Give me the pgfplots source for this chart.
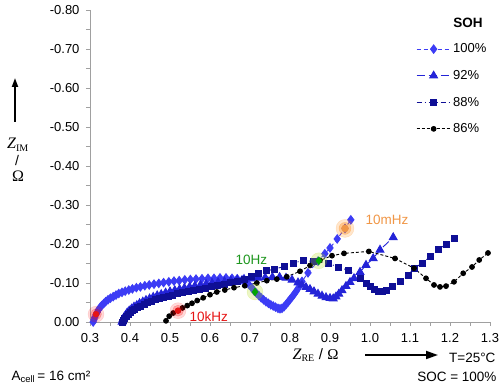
\documentclass[border=0pt]{standalone}
\usepackage{pgfplots}
\pgfplotsset{compat=1.18}
\usepackage{fontspec}
\setmainfont{Liberation Sans}
\newfontfamily\seriffont{Liberation Serif}
\usetikzlibrary{arrows.meta}
\definecolor{cA}{RGB}{60,60,245}
\definecolor{cB}{RGB}{35,35,215}
\definecolor{cC}{RGB}{15,15,150}
\definecolor{axgray}{RGB}{160,160,160}
\definecolor{kred}{RGB}{230,20,20}
\definecolor{hgreen}{RGB}{30,150,30}
\definecolor{horange}{RGB}{240,150,70}

\pgfplotstableread{
x y
0.308 0.000
0.310 -0.006
0.312 -0.012
0.315 -0.019
0.318 -0.025
0.321 -0.031
0.325 -0.037
0.329 -0.042
0.334 -0.047
0.339 -0.052
0.345 -0.057
0.351 -0.061
0.358 -0.065
0.365 -0.069
0.372 -0.073
0.380 -0.076
0.388 -0.079
0.397 -0.082
0.406 -0.085
0.416 -0.088
0.426 -0.090
0.437 -0.093
0.448 -0.095
0.460 -0.097
0.472 -0.099
0.484 -0.101
0.497 -0.103
0.510 -0.105
0.523 -0.106
0.537 -0.108
0.551 -0.109
0.565 -0.110
0.580 -0.111
0.595 -0.112
0.610 -0.112
0.625 -0.113
0.640 -0.113
0.655 -0.112
0.668 -0.111
0.680 -0.108
0.690 -0.102
0.698 -0.095
0.705 -0.087
0.710 -0.080
0.716 -0.074
0.722 -0.068
0.728 -0.062
0.734 -0.057
0.740 -0.052
0.746 -0.048
0.752 -0.044
0.758 -0.041
0.764 -0.038
0.770 -0.035
0.775 -0.034
0.780 -0.035
0.785 -0.039
0.790 -0.045
0.795 -0.051
0.800 -0.058
0.805 -0.064
0.810 -0.071
0.815 -0.078
0.820 -0.086
0.825 -0.095
0.830 -0.104
0.845 -0.126
0.870 -0.156
0.887 -0.175
0.900 -0.190
0.918 -0.213
0.9375 -0.240
0.952 -0.262
}\tA

\pgfplotstableread{
x y
0.380 0.000
0.382 -0.006
0.385 -0.012
0.389 -0.018
0.393 -0.024
0.398 -0.029
0.404 -0.034
0.410 -0.039
0.417 -0.043
0.424 -0.048
0.432 -0.052
0.440 -0.056
0.449 -0.060
0.458 -0.064
0.468 -0.068
0.478 -0.071
0.489 -0.075
0.500 -0.078
0.512 -0.081
0.524 -0.084
0.536 -0.087
0.549 -0.090
0.562 -0.092
0.576 -0.095
0.590 -0.097
0.605 -0.100
0.620 -0.102
0.636 -0.104
0.652 -0.106
0.668 -0.108
0.685 -0.110
0.702 -0.111
0.720 -0.113
0.738 -0.114
0.756 -0.115
0.774 -0.115
0.790 -0.113
0.805 -0.108
0.820 -0.101
0.830 -0.095
0.840 -0.089
0.850 -0.084
0.860 -0.078
0.870 -0.072
0.880 -0.067
0.890 -0.063
0.900 -0.061
0.908 -0.060
0.915 -0.065
0.922 -0.072
0.930 -0.081
0.940 -0.092
0.950 -0.102
0.960 -0.112
0.975 -0.128
0.990 -0.146
1.008 -0.163
1.025 -0.185
1.058 -0.217
}\tB

\pgfplotstableread{
x y
0.382 0.000
0.384 -0.005
0.387 -0.010
0.391 -0.015
0.395 -0.020
0.400 -0.024
0.406 -0.029
0.412 -0.033
0.419 -0.037
0.427 -0.041
0.435 -0.045
0.444 -0.049
0.453 -0.053
0.463 -0.057
0.473 -0.060
0.484 -0.063
0.495 -0.066
0.507 -0.069
0.519 -0.072
0.532 -0.075
0.545 -0.078
0.559 -0.081
0.573 -0.084
0.588 -0.087
0.603 -0.090
0.619 -0.093
0.635 -0.097
0.651 -0.101
0.668 -0.105
0.686 -0.110
0.704 -0.117
0.722 -0.124
0.742 -0.131
0.762 -0.136
0.785 -0.142
0.808 -0.151
0.833 -0.158
0.858 -0.155
0.895 -0.151
0.920 -0.141
0.945 -0.133
0.975 -0.112
0.990 -0.100
1.000 -0.090
1.010 -0.083
1.020 -0.079
1.030 -0.078
1.040 -0.082
1.055 -0.092
1.075 -0.105
1.095 -0.120
1.110 -0.137
1.130 -0.151
1.150 -0.167
1.170 -0.185
1.190 -0.200
1.210 -0.215
}\tC

\pgfplotstableread{
x y
0.490 -0.003
0.498 -0.015
0.508 -0.023
0.520 -0.029
0.531 -0.036
0.543 -0.042
0.555 -0.048
0.568 -0.055
0.583 -0.062
0.600 -0.070
0.617 -0.077
0.637 -0.082
0.660 -0.088
0.687 -0.093
0.717 -0.100
0.742 -0.106
0.767 -0.110
0.792 -0.116
0.825 -0.130
0.850 -0.145
0.875 -0.158
0.905 -0.170
0.935 -0.176
0.997 -0.181
1.0625 -0.163
1.110 -0.138
1.140 -0.112
1.160 -0.095
1.175 -0.090
1.190 -0.092
1.210 -0.103
1.233 -0.125
1.255 -0.141
1.273 -0.159
1.295 -0.177
}\tD

\begin{document}
\begin{tikzpicture}
\path[use as bounding box] (-90pt,-65pt) rectangle (410pt,322pt);
\begin{axis}[
  at={(0pt,0pt)}, anchor=south west,
  scale only axis, width=400pt, height=312pt,
  xmin=0.3, xmax=1.3, ymin=-0.8, ymax=0, y dir=reverse,
  axis x line*=bottom, axis y line*=left,
  axis line style={axgray, line width=0.8pt},
  tick style={axgray, line width=0.8pt},
  tick align=outside,
  major tick length=4pt, minor tick length=4pt,
  xtick={0.3,0.4,...,1.31}, ytick={-0.8,-0.7,...,0.01},
  minor x tick num=1, minor y tick num=1,
  /pgf/number format/assume math mode=true,
  xticklabel style={/pgf/number format/.cd, fixed, fixed zerofill, precision=1},
  yticklabel style={/pgf/number format/.cd, fixed, fixed zerofill, precision=2},
  ticklabel style={font=\fontsize{13}{15}\selectfont},
  xticklabel shift=4pt, yticklabel shift=3pt,
  clip=false,
  legend cell align=left,
  legend style={draw=none, fill=none, at={(0.8075,0.905)}, anchor=north west,
    font=\fontsize{13}{15}\selectfont, row sep=12pt, nodes={fill=none},
    /tikz/every even column/.append style={column sep=2pt}},
  legend image code/.code={\draw[#1] (-17pt,0pt) -- (17pt,0pt); \draw[#1, only marks] plot coordinates {(0pt,0pt)}; \path[draw=none, fill=none] (-17pt,-3pt) rectangle (17pt,3pt);},
]
\addplot[cA, line width=0.9pt, dash pattern=on 4pt off 3pt, mark=diamond*, mark size=4.2pt, mark options={solid}] table {\tA};
\addlegendentry{100\%}
\addplot[cB, line width=0.9pt, dash pattern=on 8pt off 4pt, mark=triangle*, mark size=4.5pt, mark options={solid}] table {\tB};
\addlegendentry{92\%}
\addplot[cC, line width=0.9pt, dash pattern=on 5pt off 3pt on 1pt off 3pt, mark=square*, mark size=3pt, mark options={solid}] table {\tC};
\addlegendentry{88\%}
\addplot[black, line width=0.9pt, dash pattern=on 3pt off 2pt, mark=*, mark size=2.4pt, mark options={solid}] table {\tD};
\addlegendentry{86\%}
% highlighted frequencies
\addplot[only marks, red, opacity=0.15, mark=*, mark size=8pt, forget plot] coordinates {(0.315,-0.020) (0.520,-0.029)};
\addplot[only marks, red, opacity=0.25, mark=*, mark size=5.5pt, forget plot] coordinates {(0.315,-0.020) (0.520,-0.029)};
\addplot[only marks, kred, mark=*, mark size=3pt, forget plot] coordinates {(0.315,-0.020) (0.520,-0.029)};
\addplot[only marks, yellow!70!green, opacity=0.25, mark=*, mark size=8pt, forget plot] coordinates {(0.7125,-0.077) (0.872,-0.157)};
\addplot[only marks, green!65!black, mark=diamond*, mark size=4pt, forget plot] coordinates {(0.7125,-0.077) (0.872,-0.157)};
\addplot[only marks, orange, opacity=0.2, mark=*, mark size=9pt, forget plot] coordinates {(0.9375,-0.240)};
\addplot[only marks, orange, opacity=0.3, mark=*, mark size=6pt, forget plot] coordinates {(0.9375,-0.240)};
\addplot[only marks, horange, mark=*, mark size=3.5pt, forget plot] coordinates {(0.9375,-0.240)};
\node[anchor=west, text=kred, font=\fontsize{13.5}{15}\selectfont] at (axis cs:0.54,-0.013) {10kHz};
\node[anchor=west, text=hgreen, font=\fontsize{13.5}{15}\selectfont] at (axis cs:0.655,-0.160) {10Hz};
\node[anchor=west, text=horange, font=\fontsize{13.5}{15}\selectfont] at (axis cs:0.980,-0.262) {10mHz};
\end{axis}
\node[font=\bfseries\fontsize{13.5}{15}\selectfont] at (378pt,299pt) {SOH};
% y label
\draw[-{Triangle[length=9pt,width=6pt]}, line width=1.8pt] (-75pt,200pt) -- (-75pt,244pt);
\node[font=\fontsize{16}{18}\selectfont\seriffont] at (-72pt,177pt) {\textit{Z}\textsubscript{\fontsize{10}{11}\selectfont IM}};
\node[font=\fontsize{14}{16}\selectfont] at (-73pt,161pt) {/};
\node[font=\fontsize{16}{18}\selectfont\seriffont] at (-72pt,146pt) {Ω};
% x label
\node[anchor=east, font=\fontsize{15}{17}\selectfont] at (252pt,-33pt) {{\seriffont\fontsize{16}{18}\selectfont\textit{Z}\textsubscript{\fontsize{10}{11}\selectfont RE}} / {\seriffont Ω}};
\draw[-{Triangle[length=12pt,width=8pt]}, line width=1.8pt] (275pt,-33pt) -- (348pt,-33pt);
\node[anchor=west, font=\fontsize{13.5}{15}\selectfont] at (-82pt,-55pt) {A\textsubscript{cell}\,= 16 cm²};
\node[anchor=east, font=\fontsize{13.5}{15}\selectfont] at (409pt,-36pt) {T=25°C};
\node[anchor=east, font=\fontsize{13.5}{15}\selectfont] at (410pt,-55pt) {SOC = 100\%};
\end{tikzpicture}
\end{document}
